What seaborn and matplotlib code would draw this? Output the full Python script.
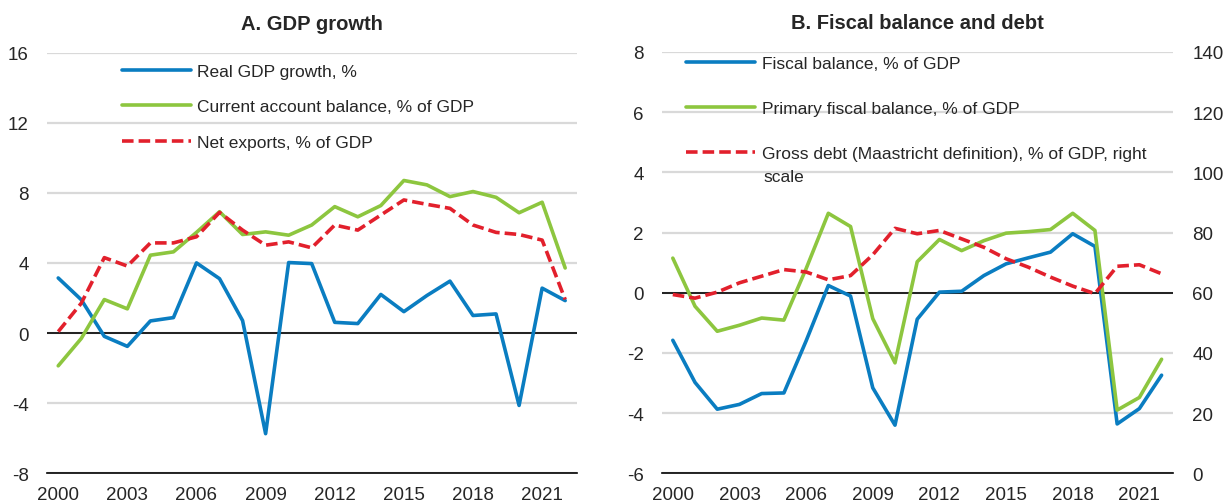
import matplotlib
matplotlib.use("Agg")
import matplotlib.pyplot as plt
import seaborn as sns
import pandas as pd
from matplotlib.ticker import FixedLocator, NullFormatter

years = list(range(2000, 2023))

# Panel A
real_gdp = [3.14, 1.9, -0.19, -0.76, 0.69, 0.88, 4.0, 3.1, 0.71, -5.74, 4.02, 3.96,
            0.61, 0.54, 2.2, 1.22, 2.14, 2.96, 1.0, 1.09, -4.13, 2.56, 1.85]
current_account = [-1.87, -0.31, 1.91, 1.38, 4.44, 4.63, 5.74, 6.92, 5.62, 5.77, 5.58, 6.16,
                   7.21, 6.63, 7.27, 8.7, 8.45, 7.78, 8.07, 7.74, 6.86, 7.46, 3.71]
net_exports = [0.08, 1.7, 4.3, 3.82, 5.14, 5.14, 5.49, 6.88, 5.87, 5.01, 5.2, 4.86,
               6.16, 5.87, 6.73, 7.59, 7.34, 7.11, 6.16, 5.74, 5.62, 5.3, 1.91]

# Panel B
fiscal_balance = [-1.58, -2.98, -3.87, -3.71, -3.35, -3.33, -1.6, 0.24, -0.11, -3.16, -4.4, -0.88,
                  0.02, 0.05, 0.57, 0.96, 1.16, 1.35, 1.96, 1.54, -4.36, -3.85, -2.74]
primary_balance = [1.15, -0.45, -1.28, -1.08, -0.84, -0.91, 0.8, 2.64, 2.2, -0.86, -2.33, 1.03,
                   1.77, 1.4, 1.73, 1.98, 2.03, 2.1, 2.64, 2.07, -3.9, -3.48, -2.21]
gross_debt = [59.4, 58.2, 60.2, 63.3, 65.5, 67.7, 66.9, 64.3, 65.7, 72.6, 81.4, 79.6,
              80.7, 77.9, 75.1, 71.3, 68.5, 65.2, 62.2, 59.7, 68.8, 69.3, 66.3]

labels_a = ["Real GDP growth, %", "Current account balance, % of GDP", "Net exports, % of GDP"]
labels_b = ["Fiscal balance, % of GDP", "Primary fiscal balance, % of GDP",
            "Gross debt (Maastricht definition), % of GDP, right"]
label_b_cont = "scale"
titles = ["A. GDP growth", "B. Fiscal balance and debt"]
year_ticks = [2000, 2003, 2006, 2009, 2012, 2015, 2018, 2021]

BLUE = "#0A7DC1"
GREEN = "#8DC63F"
RED = "#E2202C"
GRID = "#D9D9D9"

sns.set_style("white")
plt.rcParams["font.family"] = ["Liberation Sans", "DejaVu Sans"]

W, H = 1223, 502
fig = plt.figure(figsize=(W / 100, H / 100), dpi=100)

def px_rect(l, r, t, b):
    return [l / W, 1 - b / H, (r - l) / W, (b - t) / H]

axA = fig.add_axes(px_rect(46.7, 576.7, 53.5, 474.3))
axB = fig.add_axes(px_rect(661.7, 1172.7, 53.0, 474.3))

LW = 2.6
DASH = (0, (3.2, 1.4))
FS = 13.5
LFS = 12.5

def style_axis(ax, ylim, yticks):
    ax.set_xlim(1999.5, 2022.5)
    ax.set_ylim(*ylim)
    ax.set_yticks(yticks)
    ax.set_yticklabels([f"{v:g}" for v in yticks])
    ax.yaxis.grid(True, color=GRID, lw=1.6)
    ax.xaxis.grid(False)
    ax.set_axisbelow(True)
    for s in ["top", "right", "left"]:
        ax.spines[s].set_visible(False)
    ax.spines["bottom"].set_color("black")
    ax.spines["bottom"].set_linewidth(1.2)
    ax.set_xticks(year_ticks)
    ax.set_xticklabels([str(y) for y in year_ticks])
    ax.xaxis.set_minor_locator(FixedLocator([y - 0.5 for y in years] + [2022.5]))
    ax.xaxis.set_minor_formatter(NullFormatter())
    ax.tick_params(axis="x", which="major", length=0, pad=9, labelsize=FS)
    ax.tick_params(axis="x", which="minor", direction="in", length=5, width=1.2, color="black")
    ax.tick_params(axis="y", length=0, pad=13, labelsize=FS)
    ax.axhline(0, color="black", lw=1.2, zorder=1.5)
    ax.set_xlabel("")
    ax.set_ylabel("")

# Panel A
sns.lineplot(x=years, y=real_gdp, ax=axA, color=BLUE, lw=LW, legend=False)
sns.lineplot(x=years, y=current_account, ax=axA, color=GREEN, lw=LW, legend=False)
sns.lineplot(x=years, y=net_exports, ax=axA, color=RED, lw=LW, legend=False)
axA.lines[-1].set_linestyle(DASH)
style_axis(axA, (-8, 16), [-8, -4, 0, 4, 8, 12, 16])
axA.set_title(titles[0], fontsize=14.5, fontweight="bold", pad=17)
hA = axA.lines[:3]
fig.legend(hA, labels_a, loc="upper left", bbox_to_anchor=(121.7 / W, 1 - 65 / H),
           frameon=False, fontsize=LFS, handlelength=4.0, handletextpad=0.35,
           labelspacing=1.16, borderpad=0, borderaxespad=0)

# Panel B
sns.lineplot(x=years, y=fiscal_balance, ax=axB, color=BLUE, lw=LW, legend=False)
sns.lineplot(x=years, y=primary_balance, ax=axB, color=GREEN, lw=LW, legend=False)
style_axis(axB, (-6, 8), [-6, -4, -2, 0, 2, 4, 6, 8])
axB2 = axB.twinx()
sns.lineplot(x=years, y=gross_debt, ax=axB2, color=RED, lw=LW, legend=False)
axB2.lines[-1].set_linestyle(DASH)
axB2.set_ylim(0, 140)
axB2.set_yticks([0, 20, 40, 60, 80, 100, 120, 140])
axB2.set_yticklabels([str(v) for v in [0, 20, 40, 60, 80, 100, 120, 140]])
axB2.tick_params(axis="y", length=0, pad=14, labelsize=FS)
axB2.grid(False)
for s in ["top", "right", "left", "bottom"]:
    axB2.spines[s].set_visible(False)
axB2.set_ylabel("")
axB.set_title(titles[1], fontsize=14.5, fontweight="bold", pad=17)
hB = [axB.lines[0], axB.lines[1], axB2.lines[0]]
fig.legend(hB, labels_b, loc="upper left", bbox_to_anchor=(686 / W, 1 - 56.5 / H),
           frameon=False, fontsize=LFS, handlelength=4.0, handletextpad=0.35,
           labelspacing=1.74, borderpad=0, borderaxespad=0)
fig.text(763 / W, 1 - 177.5 / H, label_b_cont, fontsize=LFS, ha="left", va="center")

fig.savefig("out.png", dpi=100)
